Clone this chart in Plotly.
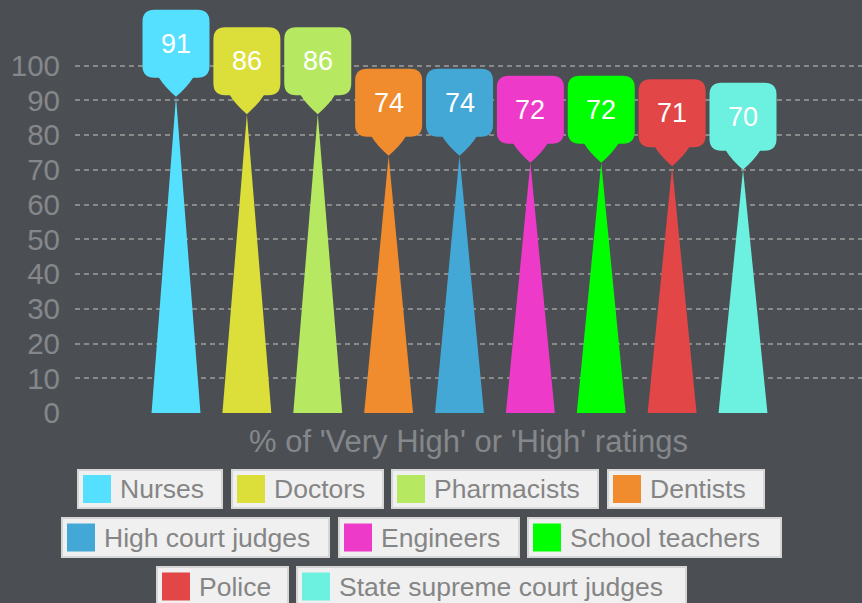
import plotly.graph_objects as go

categories = ["Nurses", "Doctors", "Pharmacists", "Dentists", "High court judges",
              "Engineers", "School teachers", "Police", "State supreme court judges"]
values = [91, 86, 86, 74, 74, 72, 72, 71, 70]
colors = ["#55e0ff", "#dcdf3a", "#b6e961", "#f08c2e", "#44a8d6",
          "#ee3ac8", "#00ff00", "#e24646", "#6cf0e0"]
y_ticks = [0, 10, 20, 30, 40, 50, 60, 70, 80, 90, 100]
axis_title = "% of 'Very High' or 'High' ratings"

BG = "#4b4f54"
GRID = "#8a8a8a"
FONT = "Liberation Sans, Arial, sans-serif"

W, H = 862, 603
ML, MR, MT, MB = 75, 0, 3, 190
PW, PH = W - ML - MR, H - MT - MB

fig = go.Figure()

half = 0.345
for i, (c, v, col) in enumerate(zip(categories, values, colors)):
    fig.add_trace(go.Scatter(
        x=[i - half, i, i + half, i - half],
        y=[0, v, 0, 0],
        fill="toself", fillcolor=col, mode="lines",
        line=dict(width=0, color=col), name=c, showlegend=False,
        hoverinfo="skip"))

# callouts
bw, bb, bt, r, ph = 33.5, 19, 87, 12, 17
path = (f"M 0,0 Q {-ph * 0.7},{bb * 0.55} {-ph},{bb} L {-bw + r},{bb} Q {-bw},{bb} {-bw},{bb + r} "
        f"L {-bw},{bt - r} Q {-bw},{bt} {-bw + r},{bt} L {bw - r},{bt} "
        f"Q {bw},{bt} {bw},{bt - r} L {bw},{bb + r} Q {bw},{bb} {bw - r},{bb} "
        f"L {ph},{bb} Q {ph * 0.7},{bb * 0.55} 0,0 Z")
shapes = []
annotations = []
for i, (v, col) in enumerate(zip(values, colors)):
    shapes.append(dict(type="path", xref="x", yref="y", xsizemode="pixel",
                       ysizemode="pixel", xanchor=i, yanchor=v, path=path,
                       fillcolor=col, line=dict(width=0), layer="above"))
    annotations.append(dict(x=i, y=v, xref="x", yref="y", text=str(v),
                            showarrow=False, yshift=(bb + bt) / 2,
                            font=dict(family=FONT, size=27, color="white")))

# manual legend (pixel layout)
def px(x):
    return (x - ML) / PW

def py(y):
    return (H - MB - y) / PH

legend_rows = [
    (470, 508, [(0, 78, 222), (1, 232, 383), (2, 392, 598), (3, 608, 764)]),
    (518, 557, [(4, 62, 329), (5, 339, 519), (6, 528, 781)]),
    (567, 606, [(7, 157, 288), (8, 297, 686)]),
]
for y0, y1, items in legend_rows:
    for idx, x0, x1 in items:
        shapes.append(dict(type="rect", xref="paper", yref="paper",
                           x0=px(x0), x1=px(x1), y0=py(y1), y1=py(y0),
                           fillcolor="#f0f0f0", line=dict(color="#d6d6d6", width=2),
                           layer="above"))
        sy = (y0 + y1) / 2
        shapes.append(dict(type="rect", xref="paper", yref="paper",
                           x0=px(x0 + 5), x1=px(x0 + 33), y0=py(sy + 14), y1=py(sy - 14),
                           fillcolor=colors[idx], line=dict(width=0), layer="above"))
        annotations.append(dict(x=px(x0 + 40), y=py(sy), xref="paper", yref="paper",
                                xanchor="left", yanchor="middle", showarrow=False,
                                text=categories[idx],
                                font=dict(family=FONT, size=26.5, color="#858585")))

annotations.append(dict(x=0.5, y=py(441), xref="paper", yref="paper",
                        xanchor="center", yanchor="middle", showarrow=False,
                        text=axis_title, font=dict(family=FONT, size=31, color="#85878a")))

x_lo = -(176 - ML) / 70.875
x_hi = 8 + (W - 743) / 70.875
y_hi = (H - MB - MT) / 3.475

fig.update_layout(
    width=W, height=H, margin=dict(l=ML, r=MR, t=MT, b=MB),
    paper_bgcolor=BG, plot_bgcolor=BG,
    shapes=shapes, annotations=annotations, showlegend=False,
    xaxis=dict(range=[x_lo, x_hi], showgrid=False, zeroline=False,
               showticklabels=False, showline=False, fixedrange=True),
    yaxis=dict(range=[0, y_hi], tickvals=y_ticks, showgrid=True, gridcolor=GRID,
               griddash="5px,4px", gridwidth=1.5, zeroline=False, showline=False,
               tickfont=dict(family=FONT, size=29.5, color="#85878a"),
               ticklabelstandoff=14, fixedrange=True),
)

fig.write_html("out.html", config={"displayModeBar": False},
               post_script="document.body.style.margin='0';document.body.style.overflow='hidden';")
